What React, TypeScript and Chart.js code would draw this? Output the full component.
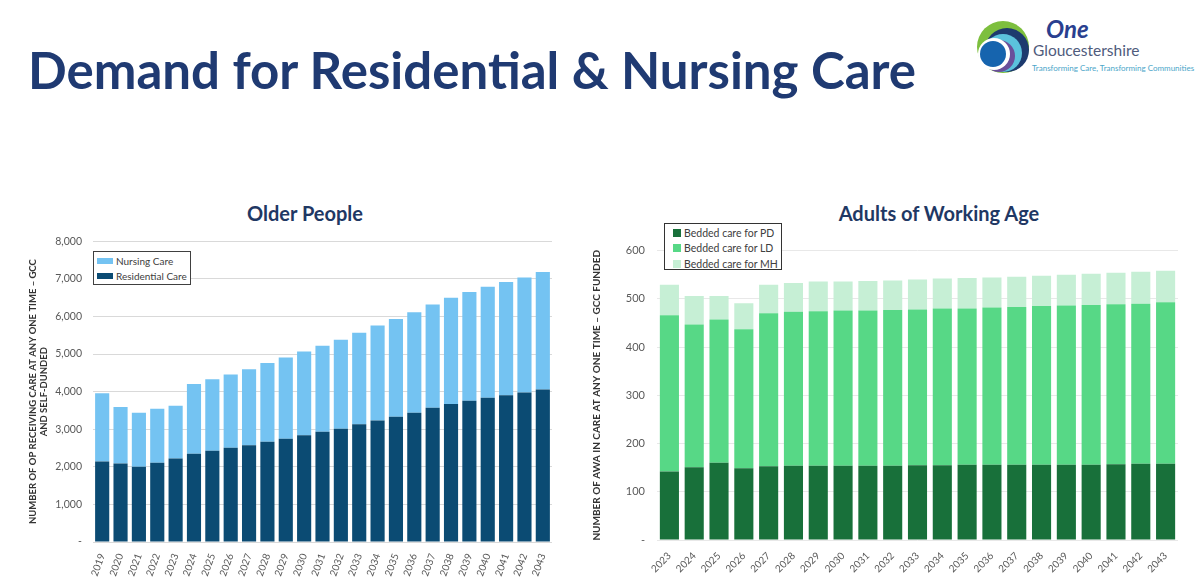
import React, { useEffect, useRef } from "react";
import { Chart, registerables } from "chart.js";

Chart.register(...registerables);

// ---------- Data ----------
const opYears = ["2019","2020","2021","2022","2023","2024","2025","2026","2027","2028","2029","2030","2031","2032","2033","2034","2035","2036","2037","2038","2039","2040","2041","2042","2043"];
const residentialCare = [2140,2090,2000,2110,2220,2345,2425,2505,2575,2665,2750,2840,2930,3015,3130,3235,3335,3440,3570,3670,3755,3835,3905,3975,4055];
const nursingCare = [1820,1500,1440,1435,1405,1860,1905,1950,2020,2095,2160,2230,2290,2365,2435,2525,2600,2670,2750,2830,2895,2955,3010,3060,3125];

const awaYears = ["2023","2024","2025","2026","2027","2028","2029","2030","2031","2032","2033","2034","2035","2036","2037","2038","2039","2040","2041","2042","2043"];
const beddedPD = [142,151,160,149,153,154,154,154,154,154,155,155,156,156,156,156,156,156,157,158,158];
const beddedLD = [324,296,297,288,317,319,320,322,322,323,323,325,324,326,327,329,330,331,332,332,335];
const beddedMH = [63,59,49,54,59,60,62,60,61,61,62,62,63,62,63,63,64,65,65,66,65];

const opTicks = [0,1000,2000,3000,4000,5000,6000,7000,8000];
const awaTicks = [0,100,200,300,400,500,600];

// ---------- Styles ----------
const FONT = "Lato, 'Open Sans', sans-serif";
const TICK = "#595959";
const C_NURSING = "#74C3F2";
const C_RESIDENTIAL = "#0B4B73";
const C_PD = "#18703A";
const C_LD = "#57D886";
const C_MH = "#C6EFD5";

function fmt(v: number) {
  return v === 0 ? "-" : v.toLocaleString("en-GB");
}

function OlderPeopleChart() {
  const ref = useRef<HTMLCanvasElement>(null);
  useEffect(() => {
    const chart = new Chart(ref.current!, {
      type: "bar",
      data: {
        labels: opYears,
        datasets: [
          { label: "Residential Care", data: residentialCare, backgroundColor: C_RESIDENTIAL, barPercentage: 0.77, categoryPercentage: 1 },
          { label: "Nursing Care", data: nursingCare, backgroundColor: C_NURSING, barPercentage: 0.77, categoryPercentage: 1 },
        ],
      },
      options: {
        animation: false,
        responsive: true,
        maintainAspectRatio: false,
        layout: { padding: { top: 0, right: 23, left: 0, bottom: 0 } },
        plugins: { legend: { display: false }, tooltip: { enabled: false }, title: { display: false } },
        scales: {
          x: {
            stacked: true,
            grid: { display: false },
            border: { display: false },
            ticks: { color: TICK, font: { family: FONT, size: 10 }, minRotation: 70, maxRotation: 70, autoSkip: false, padding: 2 },
            afterFit: (s: any) => { s.height = 38; },
          },
          y: {
            stacked: true,
            min: 0,
            max: 8000,
            afterBuildTicks: (s: any) => { s.ticks = opTicks.map((v) => ({ value: v })); },
            grid: { color: "#D9D9D9", drawTicks: false },
            border: { display: false },
            ticks: { color: TICK, font: { family: FONT, size: 10.5 }, padding: 11, callback: (v: any) => fmt(Number(v)) },
            title: {
              display: true,
              text: ["NUMBER OF OP RECEIVING CARE AT ANY ONE TIME – GCC", "AND SELF-DUNDED"],
              color: "#333333",
              font: { family: FONT, size: 9.5, weight: "bold" },
              padding: { top: 12, bottom: 0 },
            },
            afterFit: (s: any) => { s.width = 78; },
          },
        },
      },
    });
    return () => chart.destroy();
  }, []);
  return <canvas ref={ref} />;
}

function AwaChart() {
  const ref = useRef<HTMLCanvasElement>(null);
  useEffect(() => {
    const chart = new Chart(ref.current!, {
      type: "bar",
      data: {
        labels: awaYears,
        datasets: [
          { label: "Bedded care for PD", data: beddedPD, backgroundColor: C_PD, barPercentage: 0.77, categoryPercentage: 1 },
          { label: "Bedded care for LD", data: beddedLD, backgroundColor: C_LD, barPercentage: 0.77, categoryPercentage: 1 },
          { label: "Bedded care for MH", data: beddedMH, backgroundColor: C_MH, barPercentage: 0.77, categoryPercentage: 1 },
        ],
      },
      options: {
        animation: false,
        responsive: true,
        maintainAspectRatio: false,
        layout: { padding: { top: 17, right: 12, left: 0, bottom: 0 } },
        plugins: { legend: { display: false }, tooltip: { enabled: false }, title: { display: false } },
        scales: {
          x: {
            stacked: true,
            grid: { display: false },
            border: { display: false },
            ticks: { color: TICK, font: { family: FONT, size: 10 }, minRotation: 45, maxRotation: 45, autoSkip: false, padding: 2 },
            afterFit: (s: any) => { s.height = 40; },
          },
          y: {
            stacked: true,
            min: 0,
            max: 600,
            afterBuildTicks: (s: any) => { s.ticks = awaTicks.map((v) => ({ value: v })); },
            grid: { color: "#E8E8E8", drawTicks: false },
            border: { display: false },
            ticks: { color: TICK, font: { family: FONT, size: 11 }, padding: 12, callback: (v: any) => fmt(Number(v)) },
            title: {
              display: true,
              text: "NUMBER OF AWA IN CARE AT ANY ONE TIME – GCC FUNDED",
              color: "#333333",
              font: { family: FONT, size: 10, weight: "bold" },
              padding: { top: 6, bottom: 0 },
            },
            afterFit: (s: any) => { s.width = 72; },
          },
        },
      },
    });
    return () => chart.destroy();
  }, []);
  return <canvas ref={ref} />;
}

function Logo() {
  return (
    <div style={{ position: "absolute", left: 970, top: 14, width: 230, height: 66 }}>
      <svg width={62} height={66} viewBox="970 14 62 66" style={{ position: "absolute", left: 0, top: 0 }}>
        <circle cx={1003} cy={47} r={26} fill="#7DBF3E" />
        <circle cx={1007} cy={50} r={22} fill="#1D3A6E" />
        <circle cx={1003} cy={53} r={19} fill="#5BC2DC" />
        <circle cx={999} cy={56} r={16} fill="#6A4F9A" />
        <circle cx={994} cy={54} r={16} fill="#FFFFFF" />
        <circle cx={993} cy={54} r={13} fill="#1664AE" />
      </svg>
      <div style={{ position: "absolute", left: 76, top: 3, fontFamily: FONT, fontStyle: "italic", fontWeight: 700, fontSize: 24, color: "#2A3F8F", lineHeight: "24px" }}>One</div>
      <div style={{ position: "absolute", left: 63, top: 27, fontFamily: FONT, fontSize: 15.5, color: "#4F5B7C", lineHeight: "18px" }}>Gloucestershire</div>
      <div style={{ position: "absolute", left: 62, top: 49, fontFamily: FONT, fontSize: 8, color: "#4BA6C9", lineHeight: "10px", whiteSpace: "nowrap" }}>Transforming Care, Transforming Communities</div>
    </div>
  );
}

function LegendItem({ color, label, w, h, size }: { color: string; label: string; w: number; h: number; size: number }) {
  return (
    <div style={{ display: "flex", alignItems: "center", height: size + 5 }}>
      <span style={{ display: "inline-block", width: w, height: h, background: color, marginRight: 3 }} />
      <span style={{ fontFamily: FONT, fontSize: size, color: "#404040", whiteSpace: "nowrap" }}>{label}</span>
    </div>
  );
}

export default function App() {
  return (
    <div style={{ position: "absolute", left: 0, top: 0, width: 1200, height: 580, background: "#fff", overflow: "hidden" }}>
      <div style={{ position: "absolute", left: 28, top: 39, fontFamily: FONT, fontWeight: 700, fontSize: 51, color: "#1F3A72", whiteSpace: "nowrap", lineHeight: "62px" }}>
        Demand for Residential &amp; Nursing Care
      </div>
      <Logo />

      <div style={{ position: "absolute", left: 0, width: 610, top: 200, textAlign: "center", fontFamily: FONT, fontWeight: 700, fontSize: 20, color: "#1F3864", lineHeight: "26px" }}>
        Older People
      </div>
      <div style={{ position: "absolute", left: 700, width: 478, top: 200, textAlign: "center", fontFamily: FONT, fontWeight: 700, fontSize: 20, color: "#1F3864", lineHeight: "26px" }}>
        Adults of Working Age
      </div>

      <div style={{ position: "absolute", left: 15, top: 224, width: 560, height: 356 }}>
        <OlderPeopleChart />
      </div>
      <div style={{ position: "absolute", left: 585, top: 232, width: 605, height: 348 }}>
        <AwaChart />
      </div>

      <div style={{ position: "absolute", left: 93, top: 251, width: 98, height: 34, border: "1px solid #404040", background: "#fff", padding: "1px 0 0 3px", boxSizing: "border-box" }}>
        <LegendItem color={C_NURSING} label="Nursing Care" w={16} h={6} size={10} />
        <LegendItem color={C_RESIDENTIAL} label="Residential Care" w={16} h={6} size={10} />
      </div>

      <div style={{ position: "absolute", left: 664, top: 223, width: 118, height: 47, border: "1px solid #333", background: "#fff", padding: "1px 0 0 8px", boxSizing: "border-box" }}>
        <LegendItem color={C_PD} label="Bedded care for PD" w={8} h={8} size={10.5} />
        <LegendItem color={C_LD} label="Bedded care for LD" w={8} h={8} size={10.5} />
        <LegendItem color={C_MH} label="Bedded care for MH" w={8} h={8} size={10.5} />
      </div>
    </div>
  );
}
